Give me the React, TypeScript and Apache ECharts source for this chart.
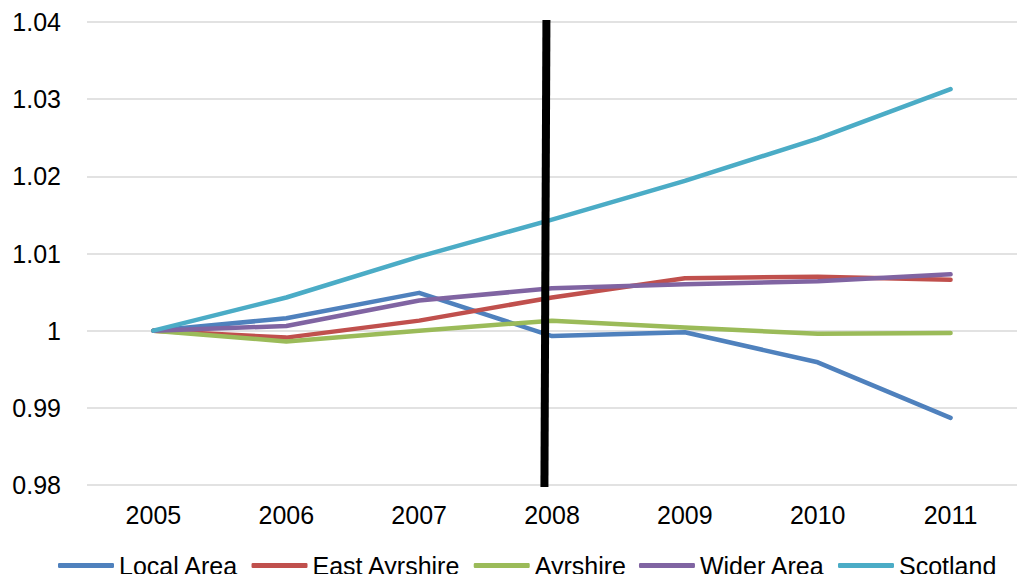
import React, { useEffect, useRef } from "react";
import * as echarts from "echarts";

// Index values (2005 = 1)
const years = ["2005", "2006", "2007", "2008", "2009", "2010", "2011"];
const localArea = [1.0, 1.0016, 1.0049, 0.9993, 0.9998, 0.9959, 0.9887];
const eastAyrshire = [1.0, 0.9991, 1.0013, 1.0043, 1.0068, 1.007, 1.0066];
const ayrshire = [1.0, 0.9986, 1.0, 1.0013, 1.0004, 0.9996, 0.9997];
const widerArea = [1.0, 1.0006, 1.0039, 1.0055, 1.006, 1.0064, 1.0073];
const scotland = [1.0, 1.0043, 1.0096, 1.0144, 1.0194, 1.0249, 1.0313];

// Vertical marker drawn across the plot, in category-index units
const markerLine: [number, number][] = [
  [2.958, 1.04026],
  [2.943, 0.97974],
];

const seriesNames = ["Local Area", "East Ayrshire", "Ayrshire", "Wider Area", "Scotland"];
const seriesData = [localArea, eastAyrshire, ayrshire, widerArea, scotland];
const colors = ["#4F81BD", "#C0504D", "#9BBB59", "#8064A2", "#4BACC6"];

const FONT = "'Liberation Sans', Arial, sans-serif";

export default function App() {
  const ref = useRef<HTMLDivElement>(null);

  useEffect(() => {
    document.body.style.margin = "0";
    if (!ref.current) return;
    const chart = echarts.init(ref.current, undefined, { renderer: "svg" });
    chart.setOption({
      animation: false,
      backgroundColor: "#ffffff",
      grid: { left: 87, right: -3, top: 22, bottom: 89, containLabel: false },
      legend: {
        data: seriesNames,
        left: 53,
        top: 548,
        itemGap: 13,
        itemWidth: 56,
        itemHeight: 5,
        icon: "roundRect",
        textStyle: { fontFamily: FONT, fontSize: 25, color: "#000" },
      },
      xAxis: [
        {
          type: "category",
          data: years,
          boundaryGap: true,
          axisLine: { show: false },
          axisTick: { show: false },
          axisLabel: { fontFamily: FONT, fontSize: 25, color: "#000", margin: 17 },
        },
        {
          type: "value",
          min: -0.5,
          max: 6.5,
          show: false,
        },
      ],
      yAxis: {
        type: "value",
        min: 0.98,
        max: 1.04,
        interval: 0.01,
        axisLine: { show: false },
        axisTick: { show: false },
        splitLine: { lineStyle: { color: "#d9d9d9", width: 1.5 } },
        axisLabel: {
          fontFamily: FONT,
          fontSize: 25,
          color: "#000",
          margin: 26,
          formatter: (v: number) => String(parseFloat(v.toFixed(2))),
        },
      },
      series: [
        ...seriesNames.map((name, i) => ({
          name,
          type: "line",
          data: seriesData[i],
          xAxisIndex: 0,
          symbol: "none",
          color: colors[i],
          lineStyle: { width: 4.5, color: colors[i], cap: "round", join: "round" },
        })),
        {
          name: "marker",
          type: "line",
          xAxisIndex: 1,
          data: markerLine,
          symbol: "none",
          clip: false,
          lineStyle: { width: 8, color: "#000" },
          silent: true,
        },
      ],
    });
    return () => chart.dispose();
  }, []);

  return <div ref={ref} style={{ width: 1017, height: 574 }} />;
}
